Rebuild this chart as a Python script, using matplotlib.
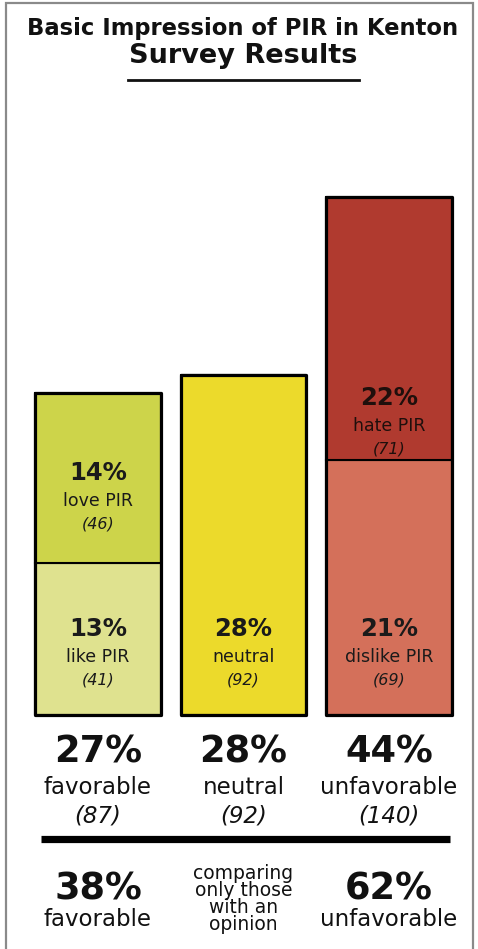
import matplotlib
matplotlib.use('Agg')
import matplotlib.pyplot as plt
from matplotlib import transforms

plt.rcParams['font.family'] = 'DejaVu Sans'

# Survey data
categories = ['favorable', 'neutral', 'unfavorable']
lower_names = ['like PIR', 'neutral', 'dislike PIR']
lower_counts = [41, 92, 69]
lower_pct = [13, 28, 21]
upper_names = ['love PIR', '', 'hate PIR']
upper_counts = [46, 0, 71]
upper_pct = [14, 0, 22]
total_counts = [87, 92, 140]
total_pct = [27, 28, 44]
opinion_labels = ['favorable', 'unfavorable']
opinion_pct = [38, 62]

# Colours
lower_colors = ['#dfe28f', '#ecda2b', '#d4705a']
upper_colors = ['#cdd44a', '#ecda2b', '#b03a2f']

# how far above the segment bottom the label block sits (pixels)
lower_lift = [86, 86, 86]
upper_lift = [90, 0, 62]

W, H = 478, 949
fig = plt.figure(figsize=(W / 100, H / 100), dpi=100)
fig.patch.set_facecolor('white')

# overlay in pixel coordinates for the free text
ov = fig.add_axes([0, 0, 1, 1])
ov.set_xlim(0, W)
ov.set_ylim(H, 0)
ov.axis('off')

# grey frame
ov.plot([6, 6, 473, 473], [H, 3, 3, H], color='#8a8a8a', lw=1.6, solid_joinstyle='miter')

# title
ov.text(W / 2 + 4, 28, 'Basic Impression of PIR in Kenton', ha='center', va='center',
        fontsize=16.3, fontweight='bold', color='#111111')
ov.text(243, 56, 'Survey Results', ha='center', va='center',
        fontsize=19.5, fontweight='bold', color='#111111')
ov.plot([128, 359], [80, 80], color='#111111', lw=2)

# bar axes
ax = fig.add_axes([25.25 / W, (H - 715) / H, 436.5 / W, 555 / H])
ax.set_xlim(-0.5, 2.5)
ax.set_ylim(0, 150)
ax.axis('off')

x = list(range(len(categories)))
bw = 0.86
ax.bar(x, lower_counts, width=bw, color=lower_colors, edgecolor='black', linewidth=1.5)
ax.bar(x, upper_counts, width=bw, bottom=lower_counts, color=upper_colors,
       edgecolor='black', linewidth=1.5)
outline = ax.bar(x, total_counts, width=bw, fill=False, edgecolor='black', linewidth=2.3)
for p in outline:
    p.set_joinstyle('round')
    p.set_clip_on(False)


def seg_label(i, bottom, lift, pct, name, count, color):
    px = 0.72  # pixels -> points
    ax.annotate(f'{pct}%', (i, bottom), xytext=(0, lift * px), textcoords='offset points',
                ha='center', va='center', fontsize=17.5, fontweight='bold', color=color)
    ax.annotate(name, (i, bottom), xytext=(0, (lift - 28) * px), textcoords='offset points',
                ha='center', va='center', fontsize=12.5, color=color)
    ax.annotate(f'({count})', (i, bottom), xytext=(0, (lift - 51) * px), textcoords='offset points',
                ha='center', va='center', fontsize=11.5, style='italic', color=color)


for i in x:
    seg_label(i, 0, lower_lift[i], lower_pct[i], lower_names[i], lower_counts[i], '#1a1a1a')
    if upper_counts[i] > 0:
        seg_label(i, lower_counts[i], upper_lift[i], upper_pct[i], upper_names[i],
                  upper_counts[i], '#1f0f0c' if i == 2 else '#1a1a1a')

# summary under the bars (x from bar axes, y in pixels)
tr = transforms.blended_transform_factory(ax.transData, ov.transData)
for i in x:
    ov.text(i, 752, f'{total_pct[i]}%', transform=tr, ha='center', va='center',
            fontsize=26.5, fontweight='bold', color='#111111')
    ov.text(i, 788, categories[i], transform=tr, ha='center', va='center',
            fontsize=16.5, color='#111111')
    ov.text(i, 816, f'({total_counts[i]})', transform=tr, ha='center', va='center',
            fontsize=16.5, style='italic', color='#111111')

ov.plot([41, 450], [839, 839], color='black', lw=5.2, solid_capstyle='butt')

# only those with an opinion
for i, lab, pct in zip([0, 2], opinion_labels, opinion_pct):
    ov.text(i, 889, f'{pct}%', transform=tr, ha='center', va='center',
            fontsize=26.5, fontweight='bold', color='#111111')
    ov.text(i, 920, lab, transform=tr, ha='center', va='center',
            fontsize=16.5, color='#111111')

ov.text(1, 899, 'comparing\nonly those\nwith an\nopinion', transform=tr, ha='center',
        va='center', fontsize=13.5, linespacing=0.85, color='#111111')

fig.savefig('out.png', dpi=100, facecolor='white')
